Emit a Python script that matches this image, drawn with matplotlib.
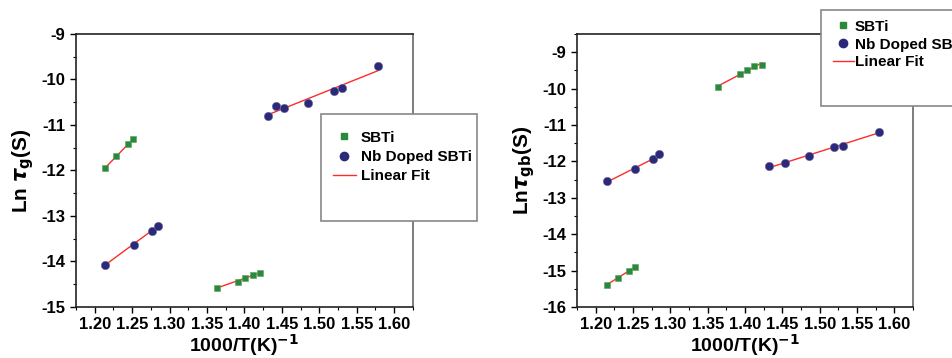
import numpy as np
import matplotlib
matplotlib.use('Agg')
import matplotlib.pyplot as plt
import matplotlib.patches as patches
from matplotlib.lines import Line2D
from matplotlib.ticker import MultipleLocator

plt.rcParams['font.family'] = 'Liberation Sans'
plt.rcParams['font.weight'] = 'bold'
plt.rcParams['mathtext.fontset'] = 'dejavusans'

# ---- grain (left panel) ----
g_sbti_hi_x = [1.2138, 1.2286, 1.2442, 1.2518]
g_sbti_hi_y = [-11.95, -11.69, -11.42, -11.31]
g_sbti_lo_x = [1.3634, 1.3915, 1.4013, 1.4112, 1.4214]
g_sbti_lo_y = [-14.575, -14.44, -14.36, -14.29, -14.25]
g_nb_lo_x = [1.2138, 1.2527, 1.2763, 1.2844]
g_nb_lo_y = [-14.07, -13.63, -13.32, -13.21]
g_nb_hi_x = [1.4317, 1.4420, 1.4527, 1.4853, 1.5192, 1.5308, 1.5790]
g_nb_hi_y = [-10.795, -10.58, -10.62, -10.52, -10.245, -10.19, -9.70]

# ---- grain boundary (right panel) ----
gb_sbti_hi_x = [1.3643, 1.3929, 1.4022, 1.4120, 1.4223]
gb_sbti_hi_y = [-9.945, -9.60, -9.49, -9.385, -9.34]
gb_sbti_lo_x = [1.2147, 1.2295, 1.2446, 1.2522]
gb_sbti_lo_y = [-15.385, -15.21, -15.01, -14.90]
gb_nb_lo_x = [1.2147, 1.2531, 1.2768, 1.2848]
gb_nb_lo_y = [-12.55, -12.22, -11.945, -11.81]
gb_nb_hi_x = [1.4326, 1.4531, 1.4857, 1.5196, 1.5313, 1.5795]
gb_nb_hi_y = [-12.135, -12.055, -11.84, -11.60, -11.57, -11.18]

xticks = [1.20, 1.25, 1.30, 1.35, 1.40, 1.45, 1.50, 1.55, 1.60]

GREEN = '#2a8a3c'
NAVY = '#2c2a78'
RED = '#ff2a2a'


def fit_line(ax, x, y):
    p = np.polyfit(x, y, 1)
    xx = np.array([min(x), max(x)])
    ax.plot(xx, np.polyval(p, xx), color=RED, lw=1.0, zorder=2)


def panel(ax, sbti, nb, ylim, yticks):
    for x, y in sbti:
        fit_line(ax, x, y)
        ax.plot(x, y, 's', color=GREEN, ms=5, mec='#5aa060', mew=0.4, zorder=3)
    for x, y in nb:
        fit_line(ax, x, y)
        ax.plot(x, y, 'o', color=NAVY, ms=6, mec='#6a6aa0', mew=0.4, zorder=3)
    ax.set_xlim(1.175, 1.625)
    ax.set_ylim(*ylim)
    ax.set_xticks(xticks)
    ax.set_xticklabels(['%.2f' % t for t in xticks])
    ax.set_yticks(yticks)
    ax.set_yticklabels(['%d' % t for t in yticks])
    ax.xaxis.set_minor_locator(MultipleLocator(0.025))
    ax.yaxis.set_minor_locator(MultipleLocator(0.5))
    ax.tick_params(which='major', direction='out', length=4, width=1,
                   labelsize=12, top=False, right=False)
    ax.tick_params(which='minor', direction='out', length=2, width=0.8,
                   top=False, right=False)
    for s in ['left', 'bottom', 'top']:
        ax.spines[s].set_linewidth(1.2)
        ax.spines[s].set_color('#222222')
    ax.spines['right'].set_color('#666666')
    ax.spines['right'].set_linewidth(1.2)
    ax.set_xlabel(r'1000/T(K)$^{\mathbf{-1}}$', fontsize=14, fontweight='bold',
                  labelpad=0)


fig = plt.figure(figsize=(9.53, 3.58), dpi=100)
ax1 = fig.add_axes([0.0797, 0.1425, 0.3536, 0.7626])
ax2 = fig.add_axes([0.6055, 0.1425, 0.3526, 0.7626])

panel(ax1, [(g_sbti_hi_x, g_sbti_hi_y), (g_sbti_lo_x, g_sbti_lo_y)],
      [(g_nb_lo_x, g_nb_lo_y), (g_nb_hi_x, g_nb_hi_y)],
      (-15, -9), [-15, -14, -13, -12, -11, -10, -9])
ax1.set_ylabel(r'Ln $\tau_{\mathbf{g}}$(S)', fontsize=15, fontweight='bold',
               labelpad=4)

panel(ax2, [(gb_sbti_hi_x, gb_sbti_hi_y), (gb_sbti_lo_x, gb_sbti_lo_y)],
      [(gb_nb_lo_x, gb_nb_lo_y), (gb_nb_hi_x, gb_nb_hi_y)],
      (-16, -8.5), [-16, -15, -14, -13, -12, -11, -10, -9])
ax2.set_ylabel(r'Ln$\tau_{\mathbf{gb}}$(S)', fontsize=15, fontweight='bold',
               labelpad=4)

handles = [Line2D([], [], ls='', marker='s', color=GREEN, ms=5),
           Line2D([], [], ls='', marker='o', color=NAVY, ms=6),
           Line2D([], [], color=RED, lw=1.0)]
labels = ['SBTi', 'Nb Doped SBTi', 'Linear Fit']

W, H = 953.0, 358.0
box1 = patches.Rectangle((321 / W, 1 - 221 / H), 156 / W, 107 / H,
                         transform=fig.transFigure, facecolor='white',
                         edgecolor='#888888', lw=1.2, zorder=5)
box2 = patches.Rectangle((821 / W, 1 - 106 / H), 140 / W, 96 / H,
                         transform=fig.transFigure, facecolor='white',
                         edgecolor='#888888', lw=1.2, zorder=5)
fig.patches.extend([box1, box2])

fig.legend(handles, labels, loc='upper left',
           bbox_to_anchor=(322 / W, 1 - 120 / H), frameon=False,
           prop={'weight': 'bold', 'size': 11}, handlelength=1.5,
           handletextpad=0.35, labelspacing=0.35, borderpad=0.2)
fig.legend(handles, labels, loc='upper left',
           bbox_to_anchor=(822 / W, 1 - 9 / H), frameon=False,
           prop={'weight': 'bold', 'size': 11}, handlelength=1.4,
           handletextpad=0.05, labelspacing=0.25, borderpad=0.2)

fig.savefig('out.png', dpi=100)
